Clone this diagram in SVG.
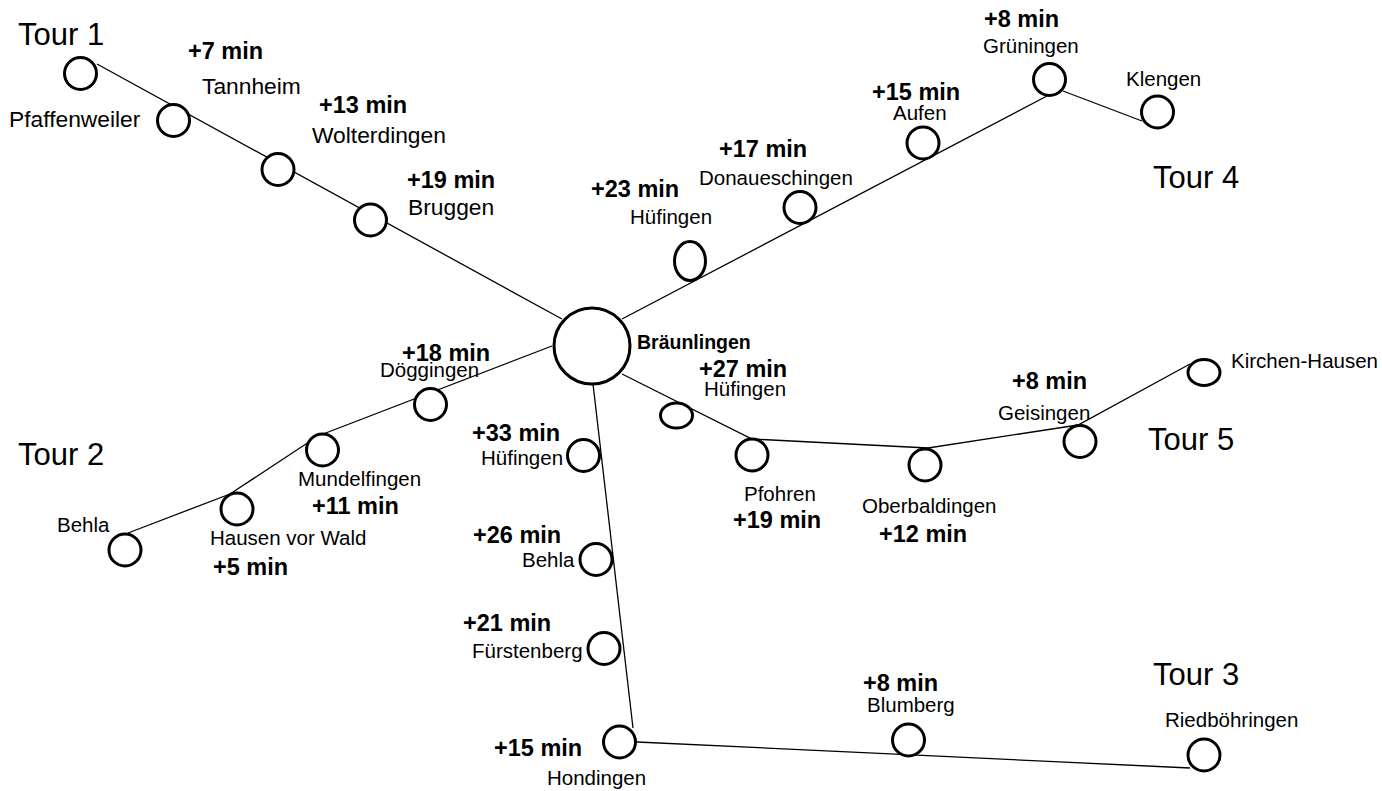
<svg xmlns="http://www.w3.org/2000/svg" width="1382" height="791" viewBox="0 0 1382 791">
<style>
text{font-family:"Liberation Sans",Arial,sans-serif;fill:#000}
.n{fill:#fff;stroke:#000;stroke-width:3}
.e{fill:none;stroke:#000;stroke-width:1.3}
.s{font-size:20.5px}
.m{font-size:22.8px}
.t{font-size:23.5px;font-weight:bold}
.b{font-size:19.5px;font-weight:bold}
.tour{font-size:31px}
</style>
<rect width="1382" height="791" fill="#fff"/>
<g id="connectors">
<path class="e" d="M97,64 L562,319"/>
<path class="e" d="M622,319 L1047,96"/>
<path class="e" d="M1063,91 L1142,121"/>
<polyline class="e" points="552,346 318,436 230,494 128,533"/>
<polyline class="e" points="622,374 752,439 928,448 1078,425 1190,364"/>
<path class="e" d="M593,384 L633,728"/>
<path class="e" d="M637,742 L1190,768"/>
</g>
<g id="tour-labels">
<text class="tour" x="18" y="45">Tour 1</text>
<text class="tour" x="18" y="465">Tour 2</text>
<text class="tour" x="1153" y="685">Tour 3</text>
<text class="tour" x="1153" y="188">Tour 4</text>
<text class="tour" x="1148" y="450">Tour 5</text>
</g>
<g id="braeunlingen"><circle class="n" cx="592" cy="346" r="38"/><text class="b" x="637" y="349">Bräunlingen</text></g>
<g id="t1-pfaffenweiler"><circle class="n" cx="80.5" cy="73.5" r="16"/></g>
<g id="t1-tannheim"><circle class="n" cx="173.5" cy="120.5" r="16"/><text class="m" x="9" y="127">Pfaffenweiler</text><text class="t" x="188" y="59">+7 min</text><text class="m" x="202" y="94">Tannheim</text></g>
<g id="t1-wolterdingen"><circle class="n" cx="278" cy="169.5" r="16"/><text class="t" x="319" y="113">+13 min</text><text class="m" x="312" y="143">Wolterdingen</text></g>
<g id="t1-bruggen"><circle class="n" cx="370.5" cy="220" r="16"/><text class="t" x="407" y="188">+19 min</text><text class="m" x="408" y="215">Bruggen</text></g>
<g id="t4-huefingen"><ellipse class="n" cx="690" cy="261" rx="15.5" ry="19.5"/><text class="t" x="591" y="197">+23 min</text><text class="s" x="630" y="224">Hüfingen</text></g>
<g id="t4-donaueschingen"><circle class="n" cx="800" cy="207.5" r="16"/><text class="t" x="719" y="157">+17 min</text><text class="s" x="699" y="185">Donaueschingen</text></g>
<g id="t4-aufen"><circle class="n" cx="923" cy="143" r="16"/><text class="t" x="872" y="100">+15 min</text><text class="s" x="893" y="120">Aufen</text></g>
<g id="t4-grueningen"><circle class="n" cx="1049.5" cy="79.5" r="16"/><text class="t" x="984" y="27">+8 min</text><text class="s" x="983" y="53">Grüningen</text></g>
<g id="t4-klengen"><circle class="n" cx="1157.5" cy="112" r="16"/><text class="s" x="1126" y="86">Klengen</text></g>
<g id="t2-doeggingen"><circle class="n" cx="430.5" cy="404.5" r="16"/><text class="t" x="402" y="361">+18 min</text><text class="s" x="380" y="377">Döggingen</text></g>
<g id="t2-mundelfingen"><circle class="n" cx="322.5" cy="450" r="16"/><text class="s" x="298" y="486">Mundelfingen</text><text class="t" x="312" y="514">+11 min</text></g>
<g id="t2-hausen"><circle class="n" cx="237" cy="509" r="16"/><text class="s" x="210" y="545">Hausen vor Wald</text><text class="t" x="213" y="575">+5 min</text></g>
<g id="t2-behla"><circle class="n" cx="125" cy="550" r="16"/><text class="s" x="57" y="532">Behla</text></g>
<g id="t5-huefingen"><ellipse class="n" cx="676.5" cy="415.5" rx="16" ry="12.5"/><text class="t" x="699" y="377">+27 min</text><text class="s" x="704" y="396">Hüfingen</text></g>
<g id="t5-pfohren"><circle class="n" cx="752" cy="455" r="16"/><text class="s" x="744" y="501">Pfohren</text><text class="t" x="733" y="528">+19 min</text></g>
<g id="t5-oberbaldingen"><circle class="n" cx="925" cy="465" r="16"/><text class="s" x="862" y="513">Oberbaldingen</text><text class="t" x="879" y="542">+12 min</text></g>
<g id="t5-geisingen"><circle class="n" cx="1080" cy="441.5" r="16"/><text class="t" x="1012" y="389">+8 min</text><text class="s" x="998" y="420">Geisingen</text></g>
<g id="t5-kirchen-hausen"><ellipse class="n" cx="1204" cy="372.5" rx="16" ry="13"/><text class="s" x="1231" y="368">Kirchen-Hausen</text></g>
<g id="t3-huefingen"><circle class="n" cx="583.5" cy="455.5" r="16"/><text class="t" x="472" y="441">+33 min</text><text class="s" x="481" y="465">Hüfingen</text></g>
<g id="t3-behla"><circle class="n" cx="596" cy="559.5" r="16"/><text class="t" x="473" y="543">+26 min</text><text class="s" x="522" y="567">Behla</text></g>
<g id="t3-fuerstenberg"><circle class="n" cx="604" cy="648.5" r="16"/><text class="t" x="463" y="631">+21 min</text><text class="s" x="472" y="658">Fürstenberg</text></g>
<g id="t3-hondingen"><circle class="n" cx="619.5" cy="742" r="16"/><text class="t" x="494" y="756">+15 min</text><text class="s" x="547" y="785">Hondingen</text></g>
<g id="t3-blumberg"><circle class="n" cx="908.5" cy="740" r="16"/><text class="t" x="863" y="691">+8 min</text><text class="s" x="867" y="712">Blumberg</text></g>
<g id="t3-riedboehringen"><circle class="n" cx="1204" cy="755" r="16"/><text class="s" x="1165" y="727">Riedböhringen</text></g>
</svg>
